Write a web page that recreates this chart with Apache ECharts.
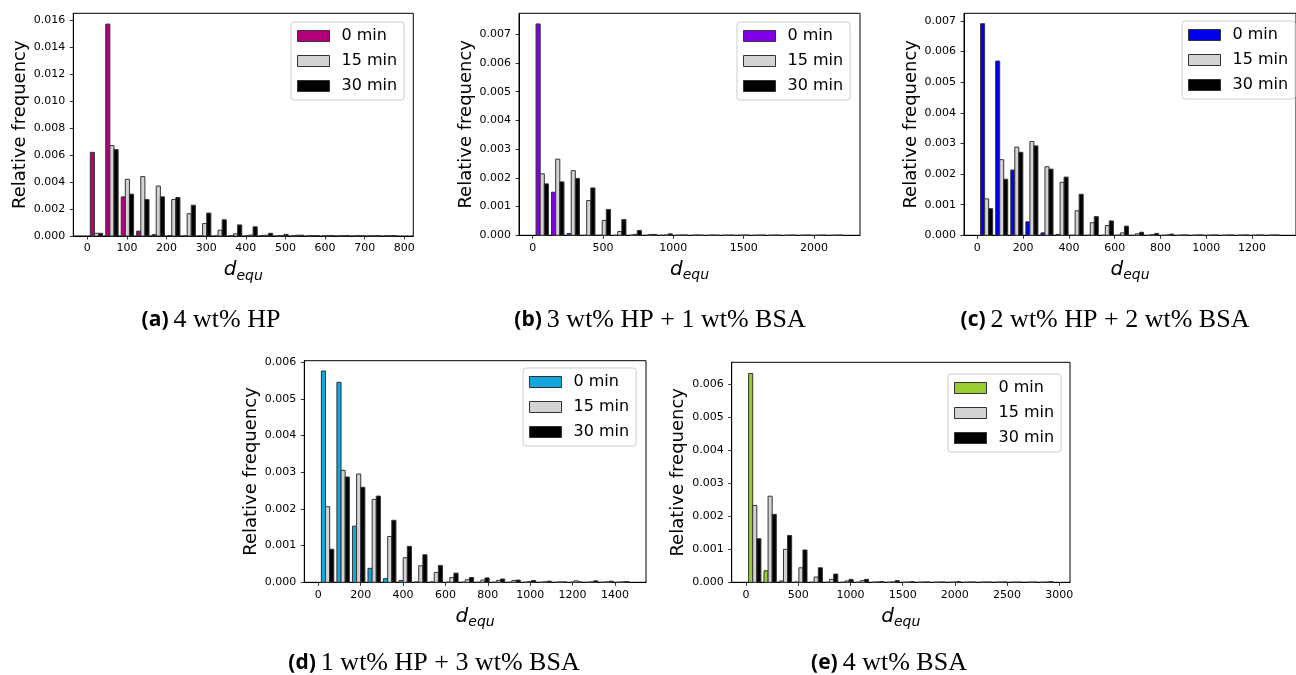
<!DOCTYPE html>
<html><head><meta charset="utf-8">
<script src="https://cdn.jsdelivr.net/npm/echarts@6/dist/echarts.min.js"></script>
<style>html,body{margin:0;padding:0;background:#fff}#c{width:1296px;height:675px}</style>
</head><body><div id="c"></div>
<script>
// ---------- data ----------
const timeLabels = ['0 min', '15 min', '30 min'];
const captionTags = ['(a)', '(b)', '(c)', '(d)', '(e)'];
const captionTexts = ['4 wt% HP', '3 wt% HP + 1 wt% BSA', '2 wt% HP + 2 wt% BSA', '1 wt% HP + 3 wt% BSA', '4 wt% BSA'];

// histogram bins: first edge and bin width (20 bins per panel)
const binLoA = 3.7,  binStepA = 39;
const binLoB = 12.8, binStepB = 110.2;
const binLoC = 7.5,  binStepC = 65.95;
const binLoD = 7.2,  binStepD = 73.3;
const binLoE = 10.3, binStepE = 147.2;

// x tick labels
const xTicksA = [0, 100, 200, 300, 400, 500, 600, 700, 800];
const xTicksB = [0, 500, 1000, 1500, 2000];
const xTicksC = [0, 200, 400, 600, 800, 1000, 1200];
const xTicksD = [0, 200, 400, 600, 800, 1000, 1200, 1400];
const xTicksE = [0, 500, 1000, 1500, 2000, 2500, 3000];
// y tick labels
const yTicksA = [0, 0.002, 0.004, 0.006, 0.008, 0.010, 0.012, 0.014, 0.016];
const yTicksB = [0, 0.001, 0.002, 0.003, 0.004, 0.005, 0.006, 0.007];
const yTicksC = [0, 0.001, 0.002, 0.003, 0.004, 0.005, 0.006, 0.007];
const yTicksD = [0, 0.001, 0.002, 0.003, 0.004, 0.005, 0.006];
const yTicksE = [0, 0.001, 0.002, 0.003, 0.004, 0.005, 0.006];

// relative frequencies
const a0  = [0.0062, 0.0157, 0.0029, 0.00036, 0.0001, 0.00003, 0, 0, 0, 0, 0, 0.00002, 0, 0, 0, 0, 0, 0, 0, 0];
const a15 = [0.0002, 0.0067, 0.0042, 0.0044, 0.0037, 0.0027, 0.00165, 0.00092, 0.00043, 0.00016, 0.00007, 0.00006, 0.00002, 0.00006, 0.00003, 0.00002, 0.00002, 0.00001, 0.00001, 0.00001];
const a30 = [0.0002, 0.0064, 0.0031, 0.0027, 0.0029, 0.00285, 0.00228, 0.0017, 0.0012, 0.00082, 0.00068, 0.0002, 0.00012, 0.00006, 0.00003, 0.00003, 0.00002, 0.00001, 0.00001, 0.00002];

const b0  = [0.00736, 0.0015, 0.00006, 0, 0, 0, 0, 0, 0, 0, 0, 0, 0, 0, 0, 0, 0, 0, 0, 0];
const b15 = [0.00214, 0.00265, 0.00225, 0.00121, 0.00052, 0.00013, 0.00003, 0.00003, 0.00001, 0.00001, 0.00001, 0.00001, 0.000005, 0.000005, 0.000005, 0.000005, 0.000005, 0.000005, 0.000005, 0.000005];
const b30 = [0.00179, 0.00186, 0.00198, 0.00165, 0.0009, 0.00055, 0.00017, 0.00003, 0.00005, 0.00001, 0.000005, 0.000005, 0.000005, 0.000005, 0.000005, 0.000005, 0.000005, 0.000005, 0.000005, 0.000005];

const c0  = [0.00691, 0.00569, 0.00213, 0.00044, 0.00008, 0.00003, 0, 0, 0, 0, 0, 0, 0, 0, 0, 0, 0, 0, 0, 0];
const c15 = [0.00119, 0.00247, 0.00288, 0.00306, 0.00224, 0.00173, 0.0008, 0.00041, 0.00032, 0.00008, 0.00005, 0.00002, 0.00001, 0.00001, 0.00001, 0.00001, 0.00001, 0.00001, 0.00001, 0.00001];
const c30 = [0.00087, 0.00183, 0.00271, 0.00292, 0.00216, 0.0019, 0.00134, 0.00061, 0.00047, 0.0003, 0.0001, 0.00006, 0.00004, 0.00001, 0.00001, 0.00001, 0.00001, 0.00001, 0.00001, 0.00001];

const d0  = [0.00576, 0.00545, 0.00153, 0.00038, 0.0001, 0.00005, 0.00001, 0.00001, 0, 0, 0, 0, 0, 0, 0, 0, 0, 0, 0, 0];
const d15 = [0.00206, 0.00305, 0.00295, 0.00226, 0.00125, 0.00067, 0.00045, 0.00027, 0.00013, 0.00007, 0.00006, 0.00005, 0.00005, 0.00002, 0.00001, 0.00001, 0.00004, 0.00001, 0.00001, 0.00001];
const d30 = [0.0009, 0.00287, 0.00259, 0.00235, 0.00169, 0.00098, 0.00075, 0.00046, 0.00025, 0.00013, 0.00012, 0.00009, 0.00006, 0.00005, 0.00003, 0.00001, 0.00001, 0.00004, 0.00003, 0.00002];

const e0  = [0.00633, 0.00035, 0.00004, 0.00001, 0, 0, 0, 0, 0, 0, 0, 0, 0, 0, 0, 0, 0, 0, 0, 0];
const e15 = [0.00233, 0.00261, 0.001, 0.00044, 0.00016, 0.00009, 0.00004, 0.00005, 0.00001, 0.00001, 0.000005, 0.000005, 0.000005, 0.000005, 0.000005, 0.000005, 0.000005, 0.000005, 0.000005, 0.000005];
const e30 = [0.00132, 0.00206, 0.00142, 0.00098, 0.00044, 0.00025, 0.00009, 0.00009, 0.00002, 0.00005, 0.00002, 0.00001, 0.00001, 0.00002, 0.000005, 0.000005, 0.00001, 0.000005, 0.000005, 0.00002];

// ---------- layout & style ----------
const panels = [
  {key:'a', lo:binLoA, step:binStepA, xt:xTicksA, yt:yTicksA, vals:[a0,a15,a30], color:'#b3007a',
   grid:{left:73.3, top:13.3, width:340, height:222.7}, xr:[-35.3, 822.7], yr:[0, 0.0165], leg:[291, 22], cap:[206, 302]},
  {key:'b', lo:binLoB, step:binStepB, xt:xTicksB, yt:yTicksB, vals:[b0,b15,b30], color:'#7f00e6',
   grid:{left:519, top:13.3, width:341, height:222}, xr:[-97.4, 2326.8], yr:[0, 0.00773], leg:[737, 22], cap:[655, 302]},
  {key:'c', lo:binLoC, step:binStepC, xt:xTicksC, yt:yTicksC, vals:[c0,c15,c30], color:'#0000ee',
   grid:{left:964, top:13.3, width:340.5, height:222}, xr:[-58.4, 1392.6], yr:[0, 0.00725], leg:[1182, 21], cap:[1100, 302]},
  {key:'d', lo:binLoD, step:binStepD, xt:xTicksD, yt:yTicksD, vals:[d0,d15,d30], color:'#12a6dc',
   grid:{left:304.3, top:360.7, width:341.7, height:221.6}, xr:[-66.1, 1546.4], yr:[0, 0.00604], leg:[523, 368], cap:[429, 645]},
  {key:'e', lo:binLoE, step:binStepE, xt:xTicksE, yt:yTicksE, vals:[e0,e15,e30], color:'#9acd32',
   grid:{left:731.7, top:362.3, width:338.3, height:220}, xr:[-136.9, 3102.4], yr:[0, 0.00667], leg:[948, 374], cap:[884, 645]}
];
const fillColors = [null, '#d3d3d3', '#000000'];
const edgeColor = '#333333';
const SANS = 'DejaVu Sans';

function makeRender(lo, step, j) {
  return function (params, api) {
    const i = api.value(0), v = api.value(1);
    const w = step * 0.8 / 3;
    const x0 = lo + step * i + step * 0.1 + j * w;
    const p0 = api.coord([x0, v]);
    const p1 = api.coord([x0 + w, 0]);
    return {type: 'rect', shape: {x: p0[0], y: p0[1], width: p1[0] - p0[0], height: p1[1] - p0[1]}, style: api.style()};
  };
}

const option = {backgroundColor:'#fff', animation:false, grid:[], xAxis:[], yAxis:[], series:[], legend:[], title:[]};
panels.forEach((p, gi) => {
  option.grid.push(Object.assign({show:true, borderColor:'#000', borderWidth:1, backgroundColor:'transparent'}, p.grid));
  option.xAxis.push({
    type:'value', gridIndex:gi, min:p.xr[0], max:p.xr[1],
    axisLine:{show:true, onZero:false, lineStyle:{color:'#000', width:1}},
    axisTick:{show:true, length:3.5, customValues:p.xt, lineStyle:{color:'#000', width:0.8}},
    axisLabel:{customValues:p.xt, fontSize:11, fontFamily:SANS, color:'#000', margin:7, formatter:v => String(v)},
    splitLine:{show:false},
    name:'{d|d}{s|equ}', nameLocation:'middle', nameGap:24,
    nameTextStyle:{rich:{
      d:{fontSize:20, fontStyle:'italic', fontFamily:SANS, color:'#000', lineHeight:22, verticalAlign:'top'},
      s:{fontSize:14, fontStyle:'italic', fontFamily:SANS, color:'#000', lineHeight:14, verticalAlign:'top', padding:[9,0,0,0]}
    }}
  });
  option.yAxis.push({
    type:'value', gridIndex:gi, min:p.yr[0], max:p.yr[1],
    axisLine:{show:true, onZero:false, lineStyle:{color:'#000', width:1}},
    axisTick:{show:true, length:3.5, customValues:p.yt, lineStyle:{color:'#000', width:0.8}},
    axisLabel:{customValues:p.yt, fontSize:11, fontFamily:SANS, color:'#000', margin:8, formatter:v => Number(v).toFixed(3)},
    splitLine:{show:false},
    name:'Relative frequency', nameLocation:'middle', nameGap:44,
    nameTextStyle:{fontSize:18, fontFamily:SANS, color:'#000'}
  });
  const names = [];
  p.vals.forEach((arr, j) => {
    const nm = p.key + '|' + timeLabels[j];
    names.push(nm);
    option.series.push({
      type:'custom', name:nm, xAxisIndex:gi, yAxisIndex:gi,
      renderItem:makeRender(p.lo, p.step, j),
      itemStyle:{color: j === 0 ? p.color : fillColors[j], borderColor:edgeColor, borderWidth:1},
      encode:{x:0, y:1},
      data:arr.map((v, i) => [i, v])
    });
  });
  option.legend.push({
    left:p.leg[0], top:p.leg[1], orient:'vertical', data:names, icon:'rect',
    itemWidth:32, itemHeight:11, itemGap:9, padding:[6,7,6,6],
    backgroundColor:'rgba(255,255,255,0.8)', borderColor:'#cccccc', borderWidth:1, borderRadius:3,
    selectedMode:false,
    itemStyle:{borderColor:edgeColor, borderWidth:1},
    textStyle:{fontSize:16, fontFamily:SANS, color:'#000', padding:[0,0,0,7]},
    formatter:n => n.split('|')[1]
  });
  option.title.push({
    text:'{b|' + captionTags[gi] + '} {r|' + captionTexts[gi] + '}',
    left:p.cap[0], top:p.cap[1], textAlign:'center',
    textStyle:{fontWeight:'normal', rich:{
      b:{fontFamily:'Open Sans', fontWeight:'bold', fontSize:21, color:'#000'},
      r:{fontFamily:'Liberation Serif', fontWeight:'normal', fontSize:26, color:'#000'}
    }}
  });
});

const chart = echarts.init(document.getElementById('c'), null, {renderer:'canvas', width:1296, height:675});
chart.setOption(option);
</script>
</body></html>
